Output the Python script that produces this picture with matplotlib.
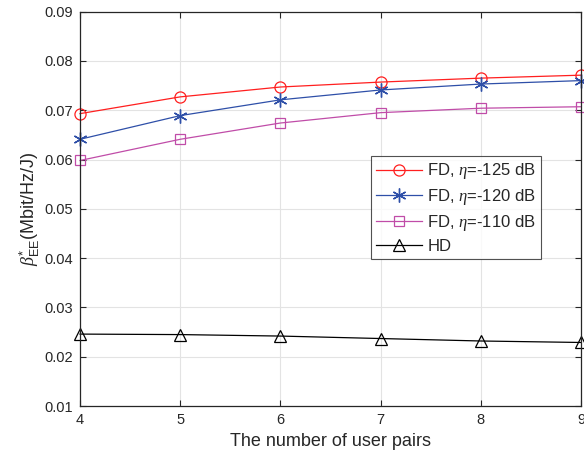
import matplotlib
matplotlib.use('Agg')
import matplotlib.pyplot as plt

plt.rcParams['font.family'] = ['Liberation Sans', 'DejaVu Sans']
plt.rcParams['mathtext.fontset'] = 'custom'
plt.rcParams['mathtext.rm'] = 'Liberation Sans'
plt.rcParams['mathtext.it'] = 'Liberation Serif:italic'

user_pairs = [4, 5, 6, 7, 8, 9]
fd_125 = [0.0693, 0.0727, 0.0747, 0.0757, 0.0765, 0.0771]
fd_120 = [0.0641, 0.0689, 0.0721, 0.0741, 0.0753, 0.0760]
fd_110 = [0.0598, 0.0641, 0.0674, 0.0695, 0.0704, 0.0707]
hd = [0.0246, 0.0245, 0.0242, 0.0237, 0.0232, 0.0229]

x_ticks = [4, 5, 6, 7, 8, 9]
y_ticks = [0.01, 0.02, 0.03, 0.04, 0.05, 0.06, 0.07, 0.08, 0.09]

axis_col = '#262626'

fig = plt.figure(figsize=(5.84, 4.62), dpi=100)
ax = fig.add_axes([0.137, 0.121, 0.858, 0.854])

# asterisk marker: 6 spokes
ast = (6, 2, 0)
ax.plot(user_pairs, fd_125, color='#FF1F1F', lw=0.9, marker='o', ms=8,
        mfc='none', mew=0.9, clip_on=False, label=r'FD, $\eta$=-125 dB')
ax.plot(user_pairs, fd_120, color='#2E4FA8', lw=0.9, marker=ast, ms=10,
        mfc='none', mew=1.0, clip_on=False, label=r'FD, $\eta$=-120 dB')
ax.plot(user_pairs, fd_110, color='#C04CA8', lw=0.9, marker='s', ms=7,
        mfc='none', mew=0.9, clip_on=False, label=r'FD, $\eta$=-110 dB')
ax.plot(user_pairs, hd, color='black', lw=0.9, marker='^', ms=8,
        mfc='none', mew=0.9, clip_on=False, label='HD')

ax.set_xlim(4, 9)
ax.set_ylim(0.01, 0.09)
ax.set_xticks(x_ticks)
ax.set_yticks(y_ticks)
ax.set_yticklabels(['%.2f' % v for v in y_ticks])
ax.grid(True, color='#e3e3e3', lw=0.8)
ax.set_axisbelow(True)

ax.tick_params(direction='in', top=True, right=True, length=4, width=0.8,
               colors=axis_col, labelsize=10.5, pad=5)
for s in ax.spines.values():
    s.set_color(axis_col)
    s.set_linewidth(0.9)

ax.set_xlabel('The number of user pairs', fontsize=13, color=axis_col, labelpad=4)
ax.set_ylabel(r'$\beta^{*}_{\mathrm{EE}}$(Mbit/Hz/J)', fontsize=13, color=axis_col, labelpad=2)

leg = ax.legend(loc='upper left', bbox_to_anchor=(0.58, 0.633), fontsize=12,
                frameon=True, fancybox=False, edgecolor=axis_col,
                borderpad=0.3, labelspacing=0.35, handlelength=2.8,
                handletextpad=0.3, borderaxespad=0)
leg.get_frame().set_linewidth(0.8)
for t in leg.get_texts():
    t.set_color(axis_col)

fig.savefig('out.png', dpi=100)
